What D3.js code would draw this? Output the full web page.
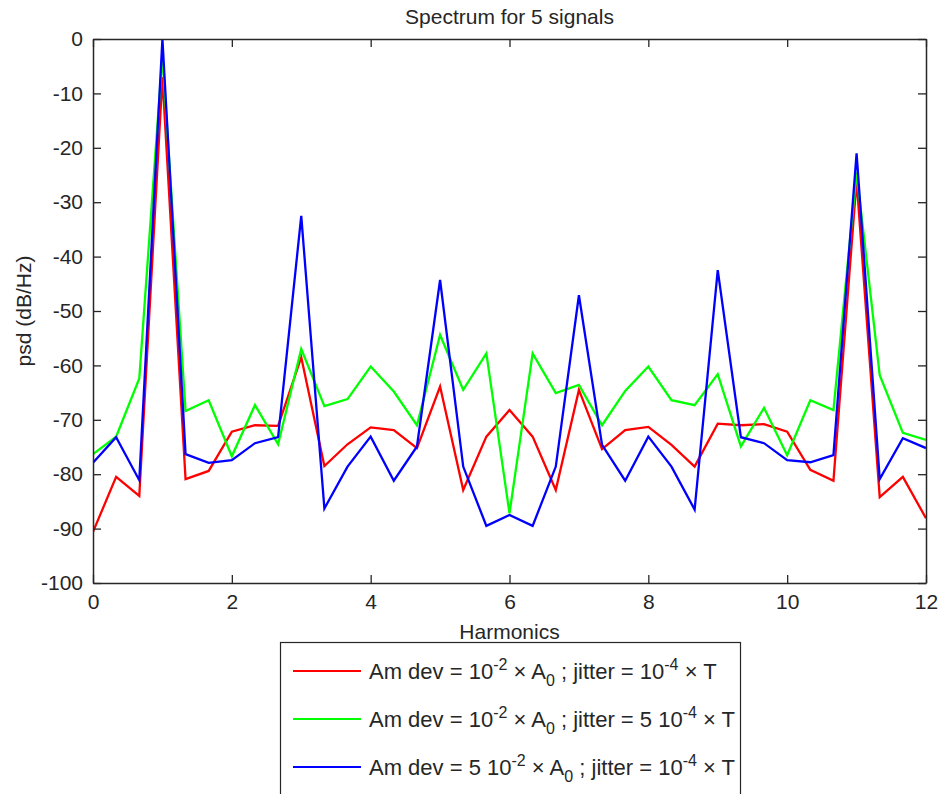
<!DOCTYPE html>
<html>
<head>
<meta charset="utf-8">
<script src="https://cdn.jsdelivr.net/npm/d3@7"></script>
<style>
  html, body { margin: 0; padding: 0; background: #fff; }
  svg { display: block; font-family: "Liberation Sans", Arial, sans-serif; }
  text { white-space: pre; }
</style>
</head>
<body>
<svg id="chart" width="939" height="794"></svg>
<script>
// ---- data ----
const harmonics = [0, 0.3333, 0.6667, 1, 1.3333, 1.6667, 2, 2.3333, 2.6667, 3, 3.3333, 3.6667,
  4, 4.3333, 4.6667, 5, 5.3333, 5.6667, 6, 6.3333, 6.6667, 7, 7.3333, 7.6667,
  8, 8.3333, 8.6667, 9, 9.3333, 9.6667, 10, 10.3333, 10.6667, 11, 11.3333, 11.6667, 12];

const psdRed = [-90.6, -80.5, -84.0, -7.0, -80.9, -79.4, -72.2, -71.0, -71.1, -58.5, -78.5, -74.5,
  -71.4, -71.9, -75.2, -63.9, -82.9, -73.1, -68.2, -73.1, -82.9, -64.5, -75.4, -71.9,
  -71.3, -74.6, -78.6, -70.7, -71.0, -70.8, -72.2, -79.2, -81.2, -26.0, -84.2, -80.5, -88.1];

const psdGreen = [-76.3, -73.1, -62.4, -3.0, -68.4, -66.4, -76.7, -67.3, -74.5, -57.0, -67.5, -66.2,
  -60.2, -64.8, -71.0, -54.4, -64.5, -57.8, -87.2, -57.8, -65.1, -63.6, -71.0, -64.7,
  -60.2, -66.4, -67.3, -61.6, -74.9, -67.8, -76.5, -66.4, -68.2, -24.5, -61.8, -72.4, -73.7];

const psdBlue = [-77.9, -73.2, -81.1, 0.0, -76.3, -77.9, -77.4, -74.3, -73.2, -32.5, -86.3, -78.6,
  -73.1, -81.2, -74.9, -44.3, -78.6, -89.5, -87.5, -89.5, -78.6, -47.1, -74.6, -81.2,
  -73.1, -78.6, -86.5, -42.5, -73.2, -74.3, -77.4, -77.8, -76.5, -21.0, -80.9, -73.4, -75.2];

const xTicks = [0, 2, 4, 6, 8, 10, 12];
const yTicks = [0, -10, -20, -30, -40, -50, -60, -70, -80, -90, -100];

const titleText = "Spectrum for 5 signals";
const xLabel = "Harmonics";
const yLabel = "psd (dB/Hz)";

const seriesNames = ["red", "green", "blue"];
const seriesColors = ["#ff0000", "#00ff00", "#0000ff"];
const legendLabels = [
  [{t: "Am dev = 10"}, {t: "-2", s: "sup"}, {t: " \u00d7 A"}, {t: "0", s: "sub"}, {t: " ; jitter = 10"}, {t: "-4", s: "sup"}, {t: " \u00d7 T"}],
  [{t: "Am dev = 10"}, {t: "-2", s: "sup"}, {t: " \u00d7 A"}, {t: "0", s: "sub"}, {t: " ; jitter = 5 10"}, {t: "-4", s: "sup"}, {t: " \u00d7 T"}],
  [{t: "Am dev = 5 10"}, {t: "-2", s: "sup"}, {t: " \u00d7 A"}, {t: "0", s: "sub"}, {t: " ; jitter = 10"}, {t: "-4", s: "sup"}, {t: " \u00d7 T"}]
];

// ---- layout ----
const svg = d3.select("#chart");
const L = 93, R = 926, T = 39, B = 583;
const x = d3.scaleLinear().domain([0, 12]).range([L, R]);
const y = d3.scaleLinear().domain([-100, 0]).range([B, T]);
const fs = 21;
const axisColor = "#262626";

// clip
svg.append("defs").append("clipPath").attr("id", "clip")
  .append("rect").attr("x", L).attr("y", T).attr("width", R - L).attr("height", B - T);

// series lines
const line = d3.line().x((d, i) => x(harmonics[i])).y(d => y(d));
const allSeries = [psdRed, psdGreen, psdBlue];
const gLines = svg.append("g").attr("clip-path", "url(#clip)");
allSeries.forEach((s, i) => {
  gLines.append("path").datum(s)
    .attr("fill", "none")
    .attr("stroke", seriesColors[i])
    .attr("stroke-width", 2.3)
    .attr("stroke-linejoin", "miter")
    .attr("d", line);
});

// axes
function styleAxis(g, showLabels) {
  g.selectAll("path.domain").attr("stroke", axisColor).attr("stroke-width", 1.5);
  g.selectAll(".tick line").attr("stroke", axisColor).attr("stroke-width", 1.3);
  g.selectAll(".tick text").attr("fill", "#262626").attr("font-size", fs)
    .attr("font-family", "'Liberation Sans', Arial, sans-serif");
  if (!showLabels) g.selectAll(".tick text").remove();
}
const tk = 8;
svg.append("g").attr("transform", `translate(0,${B})`)
  .call(d3.axisBottom(x).tickValues(xTicks).tickSizeInner(-tk).tickSizeOuter(0).tickPadding(11).tickFormat(d3.format("d")))
  .call(g => styleAxis(g, true));
svg.append("g").attr("transform", `translate(0,${T})`)
  .call(d3.axisTop(x).tickValues(xTicks).tickSizeInner(-tk).tickSizeOuter(0))
  .call(g => styleAxis(g, false));
svg.append("g").attr("transform", `translate(${L},0)`)
  .call(d3.axisLeft(y).tickValues(yTicks).tickSizeInner(-tk).tickSizeOuter(0).tickPadding(10).tickFormat(d3.format("d")))
  .call(g => styleAxis(g, true));
svg.append("g").attr("transform", `translate(${R},0)`)
  .call(d3.axisRight(y).tickValues(yTicks).tickSizeInner(-tk).tickSizeOuter(0))
  .call(g => styleAxis(g, false));
svg.selectAll(".tick text").filter(function() { return this.textContent.startsWith("\u2212"); })
  .text(function() { return this.textContent.replace("\u2212", "-"); });

// title and labels
svg.append("text").attr("x", (L + R) / 2).attr("y", 24).attr("text-anchor", "middle")
  .attr("font-size", fs).attr("fill", "#262626").text(titleText);
svg.append("text").attr("x", (L + R) / 2).attr("y", 639).attr("text-anchor", "middle")
  .attr("font-size", fs).attr("fill", "#262626").text(xLabel);
svg.append("text").attr("transform", `translate(31,${(T + B) / 2}) rotate(-90)`)
  .attr("text-anchor", "middle").attr("font-size", fs).attr("fill", "#262626").text(yLabel);

// legend
const lg = svg.append("g");
lg.append("rect").attr("x", 280.5).attr("y", 642.5).attr("width", 460).attr("height", 170)
  .attr("fill", "#fff").attr("stroke", axisColor).attr("stroke-width", 1.2);
const rowY = [671, 719, 767];
const lfs = 22;
seriesNames.forEach((n, i) => {
  lg.append("line").attr("x1", 293).attr("x2", 361).attr("y1", rowY[i]).attr("y2", rowY[i])
    .attr("stroke", seriesColors[i]).attr("stroke-width", 2);
  const t = lg.append("text").attr("x", 369).attr("y", rowY[i] + 8)
    .attr("font-size", lfs).attr("fill", "#262626");
  let cur = 0;
  legendLabels[i].forEach(seg => {
    let target = seg.s === "sup" ? -9 : seg.s === "sub" ? 7 : 0;
    t.append("tspan").attr("dy", target - cur)
      .attr("font-size", seg.s ? 16 : lfs).text(seg.t);
    cur = target;
  });
});
</script>
</body>
</html>
